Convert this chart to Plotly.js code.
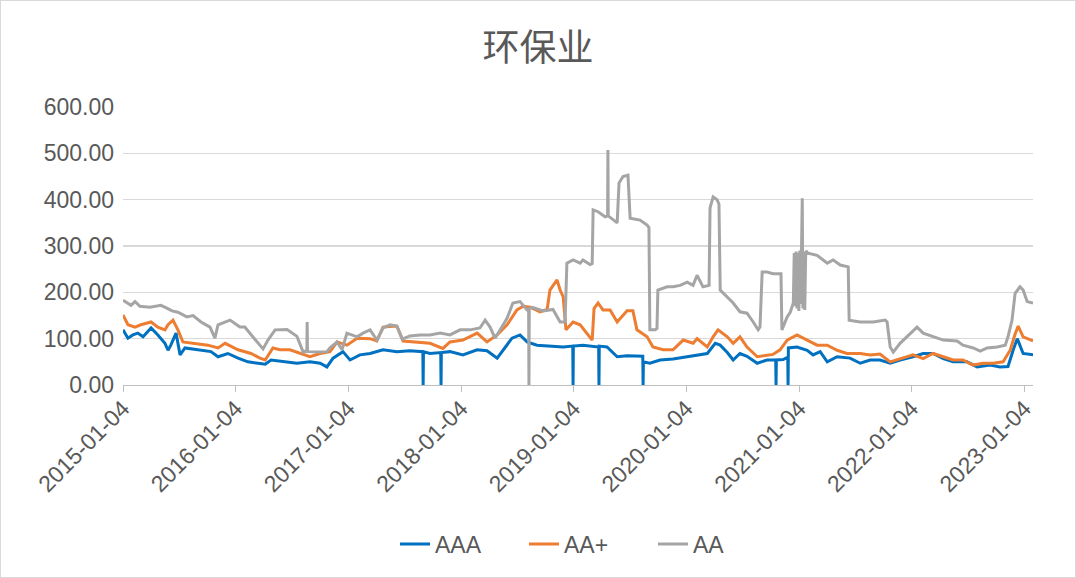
<!DOCTYPE html>
<html><head><meta charset="utf-8">
<script src="https://cdn.plot.ly/plotly-3.0.1.min.js"></script>
<style>
html,body{margin:0;padding:0;background:#fff}
#chart{width:1076px;height:578px}
#frame{position:absolute;left:0;top:0;width:1076px;height:578px;box-sizing:border-box;border:1px solid #d9d9d9;pointer-events:none}
</style></head>
<body><div id="chart"></div><div id="frame"></div>
<script>
const chartTitle = '环保业';
const seriesNames = ['AAA', 'AA+', 'AA'];
const tickDates = ['2015-01-04','2016-01-04','2017-01-04','2018-01-04','2019-01-04','2020-01-04','2021-01-04','2022-01-04','2023-01-04'];

const datesAAA = [
"2015-01-04","2015-01-20","2015-02-05","2015-02-21","2015-03-10","2015-04-05","2015-04-27","2015-05-20","2015-05-30","2015-06-08","2015-06-25","2015-07-08","2015-07-24","2015-09-04","2015-10-16","2015-11-08","2015-12-10",
"2016-01-12","2016-02-13","2016-03-17","2016-04-09","2016-04-28","2016-05-21","2016-06-19","2016-07-21","2016-09-01","2016-10-04","2016-10-26","2016-11-15","2016-12-17",
"2017-01-09","2017-02-10","2017-03-15","2017-04-26","2017-06-10","2017-07-22","2017-09-02","2017-09-03","2017-09-04","2017-09-25","2017-10-30","2017-10-31","2017-11-01","2017-11-29",
"2018-01-10","2018-02-25","2018-03-29","2018-05-01","2018-05-20","2018-06-18","2018-07-14","2018-08-06","2018-09-07","2018-10-19","2018-12-01","2019-01-01","2019-01-02","2019-01-03",
"2019-02-03","2019-03-08","2019-03-26","2019-03-27","2019-03-28","2019-04-22","2019-05-25","2019-06-26","2019-07-28","2019-08-16","2019-08-17","2019-08-18","2019-09-08","2019-10-11","2019-11-22",
"2020-01-07","2020-02-08","2020-03-12","2020-04-07","2020-04-23","2020-05-16","2020-06-04","2020-06-26","2020-07-19","2020-08-21","2020-09-22","2020-10-20","2020-10-21","2020-10-22","2020-11-13","2020-11-28","2020-11-29","2020-11-30","2020-12-28",
"2021-01-30","2021-02-18","2021-03-13","2021-04-05","2021-05-07","2021-06-18","2021-07-21","2021-08-22","2021-09-23","2021-10-26","2021-11-27",
"2022-01-08","2022-02-10","2022-03-14","2022-04-16","2022-05-18","2022-07-02","2022-08-04","2022-09-15","2022-10-17","2022-11-12","2022-11-29","2022-12-12","2022-12-31","2023-01-23","2023-02-01"];
const valuesAAA = [
119,101,108,112,104,123,108,90,75,86,112,65,80,76,72,61,68,
58,50,47,45,54,52,50,47,50,47,39,58,72,
54,65,68,76,72,74,72,0,72,68,70,0,70,72,
65,76,74,58,76,101,108,93,86,84,82,84,0,84,
86,84,82,0,84,82,61,63,62,62,0,50,47,54,56,
61,65,68,90,86,70,54,68,62,47,54,54,0,54,55,60,0,80,82,
75,65,72,50,61,58,47,54,54,47,54,
61,68,68,57,50,50,39,43,39,40,76,100,68,66,65];

const datesAAp = [
"2015-01-04","2015-01-20","2015-02-12","2015-03-03","2015-04-05","2015-04-27","2015-05-20","2015-05-30","2015-06-15","2015-07-01","2015-07-17","2015-08-25","2015-10-06","2015-11-08","2015-12-01",
"2016-01-12","2016-02-23","2016-03-23","2016-04-09","2016-05-04","2016-05-27","2016-06-28","2016-07-31","2016-09-01","2016-10-04","2016-11-05","2016-11-28","2016-12-17","2016-12-30",
"2017-02-01","2017-03-15","2017-04-06","2017-04-26","2017-05-28","2017-06-10","2017-06-30","2017-08-14","2017-09-25","2017-11-06","2017-11-29",
"2018-01-10","2018-02-25","2018-03-29","2018-05-01","2018-06-02","2018-07-04","2018-07-24","2018-08-16","2018-09-17","2018-10-10","2018-10-19","2018-11-11","2018-11-21","2018-12-01","2018-12-10",
"2019-01-02","2019-01-25","2019-02-16","2019-03-05","2019-03-11","2019-03-24","2019-04-09","2019-05-02","2019-05-25","2019-06-26","2019-07-15","2019-07-28","2019-08-30","2019-09-18","2019-10-21","2019-11-22","2019-12-25",
"2020-01-26","2020-02-08","2020-03-12","2020-03-31","2020-04-16","2020-05-16","2020-06-04","2020-06-26","2020-07-19","2020-08-21","2020-09-22","2020-10-11","2020-11-03","2020-11-26","2020-12-28",
"2021-01-30","2021-03-03","2021-04-05","2021-05-07","2021-06-08","2021-07-21","2021-08-22","2021-09-23","2021-10-26","2021-11-27",
"2022-01-08","2022-02-10","2022-03-14","2022-04-16","2022-05-18","2022-06-19","2022-07-22","2022-08-23","2022-09-25","2022-10-27","2022-11-19","2022-12-05","2022-12-15","2022-12-31","2023-01-23","2023-02-01"];
const valuesAAp = [
151,130,125,130,136,125,119,130,140,119,93,90,86,80,90,
76,68,58,54,80,76,76,68,61,68,72,93,88,86,
101,100,95,125,127,127,95,93,90,79,93,
97,112,93,108,130,162,170,168,158,163,205,227,205,190,119,
136,130,112,97,165,177,162,162,136,160,160,119,104,82,76,76,97,
90,100,82,104,119,104,90,104,82,61,65,66,76,97,108,
97,86,86,75,68,68,65,67,50,57,
65,57,68,61,54,54,43,47,47,50,75,110,127,104,97,95];

const datesAA = [
"2015-01-04","2015-01-17","2015-01-30","2015-02-12","2015-02-28","2015-04-01","2015-05-07","2015-05-26","2015-06-12","2015-07-01","2015-07-30","2015-08-19","2015-09-14","2015-10-13","2015-10-29","2015-11-08","2015-12-17",
"2016-01-18","2016-02-03","2016-03-01","2016-03-23","2016-04-02","2016-04-18","2016-05-11","2016-06-19","2016-07-21","2016-08-10","2016-08-22","2016-08-23","2016-08-24","2016-10-04","2016-10-26","2016-11-05","2016-11-28","2016-12-14","2016-12-30",
"2017-02-01","2017-02-20","2017-03-15","2017-04-06","2017-04-26","2017-05-19","2017-06-10","2017-06-27","2017-07-22","2017-08-24","2017-09-25","2017-10-28","2017-11-29",
"2018-01-01","2018-02-02","2018-03-06","2018-03-23","2018-04-08","2018-04-24","2018-05-10","2018-06-02","2018-06-21","2018-07-14","2018-08-06","2018-08-11","2018-08-12","2018-08-13","2018-08-25","2018-09-27","2018-10-29","2018-11-21","2018-12-07","2018-12-13",
"2019-01-02","2019-01-25","2019-02-03","2019-02-26","2019-03-05","2019-03-08","2019-03-24","2019-04-16","2019-04-24","2019-04-25","2019-04-26","2019-05-25","2019-05-31","2019-06-13","2019-06-29","2019-07-06","2019-08-07","2019-08-30","2019-09-05","2019-09-08","2019-09-25","2019-10-01","2019-10-04","2019-11-03","2019-11-22","2019-12-15",
"2020-01-07","2020-01-26","2020-02-08","2020-02-27","2020-03-18","2020-03-21","2020-03-31","2020-04-13","2020-04-19","2020-04-23","2020-05-16","2020-06-04","2020-06-26","2020-07-19","2020-08-08","2020-08-24","2020-08-30","2020-09-06","2020-09-22","2020-10-11","2020-11-06","2020-11-09","2020-11-26","2020-12-06","2020-12-16","2020-12-19","2020-12-22","2020-12-25","2020-12-28","2020-12-31",
"2021-01-03","2021-01-06","2021-01-09","2021-01-12","2021-01-14","2021-01-16","2021-01-19","2021-01-22","2021-01-25","2021-01-28","2021-01-30","2021-03-03","2021-04-05","2021-04-24","2021-05-17","2021-06-12","2021-06-15","2021-07-21","2021-09-01","2021-10-10","2021-10-16","2021-10-26","2021-11-05","2021-11-27","2021-12-20",
"2022-01-21","2022-02-10","2022-03-14","2022-04-16","2022-05-31","2022-06-19","2022-07-22","2022-08-14","2022-09-05","2022-10-08","2022-11-03","2022-11-12","2022-11-25","2022-12-05","2022-12-21","2022-12-31","2023-01-13","2023-02-01"];
const valuesAA = [
183,178,172,180,170,168,172,166,160,157,147,150,136,125,101,130,140,
125,125,103,85,78,97,119,120,105,71,75,136,72,71,72,80,93,76,112,
104,112,119,97,123,130,127,99,106,108,108,112,108,
119,119,123,140,125,101,119,144,177,180,162,162,0,165,167,160,163,136,136,263,
270,263,270,260,262,378,374,363,365,507,365,350,436,450,453,360,356,345,340,119,119,122,205,212,212,215,
222,215,237,212,215,382,406,400,390,205,190,177,158,155,136,119,125,244,244,240,240,119,147,157,177,285,170,288,165,285,
160,290,175,285,403,165,288,162,280,290,285,280,263,270,259,255,140,136,136,140,136,82,71,90,104,
125,112,104,97,95,86,80,73,80,82,86,104,140,198,212,205,180,177];

const colors = ['#0070C0', '#ED7D31', '#A5A5A5'];
const textColor = '#595959';
const tickFont = {family: 'Liberation Sans, Arial, sans-serif', size: 23, color: textColor};

const traces = [
  {x: datesAAA, y: valuesAAA, name: seriesNames[0], type: 'scatter', mode: 'lines', line: {color: colors[0], width: 3}},
  {x: datesAAp, y: valuesAAp, name: seriesNames[1], type: 'scatter', mode: 'lines', line: {color: colors[1], width: 3}},
  {x: datesAA, y: valuesAA, name: seriesNames[2], type: 'scatter', mode: 'lines', line: {color: colors[2], width: 3}}
];

const layout = {
  width: 1076, height: 578,
  margin: {l: 123, r: 43, t: 107, b: 193},
  paper_bgcolor: '#ffffff', plot_bgcolor: '#ffffff',
  title: {text: chartTitle, x: 0.5, xanchor: 'center', y: 1 - 48/578, yanchor: 'middle', yref: 'container',
          font: {family: 'Noto Sans CJK SC, sans-serif', size: 37, color: textColor}},
  xaxis: {type: 'date', range: ['2015-01-04', '2023-02-01'], tickmode: 'array', tickvals: tickDates,
          tickformat: '%Y-%m-%d', tickangle: -45, ticks: 'outside', ticklen: 6, tickcolor: '#bfbfbf', tickwidth: 1,
          ticklabelstandoff: -6,
          showgrid: false, zeroline: false, showline: true, linecolor: '#bfbfbf', linewidth: 1, tickfont: tickFont},
  yaxis: {range: [0, 600], tick0: 0, dtick: 100, tickformat: '.2f', showgrid: true, gridcolor: '#d9d9d9', gridwidth: 1.3,
          zeroline: false, showline: false, ticks: '', ticklabelstandoff: 8, tickfont: tickFont},
  legend: {orientation: 'h', x: 395/1076, xanchor: 'left', xref: 'container', y: 1 - 544/578, yanchor: 'middle', yref: 'container',
           font: {family: 'Liberation Sans, Arial, sans-serif', size: 23, color: textColor}, entrywidth: 84, entrywidthmode: 'pixels'},
  showlegend: true
};

Plotly.newPlot('chart', traces, layout, {displayModeBar: false, staticPlot: true});
</script></body></html>
